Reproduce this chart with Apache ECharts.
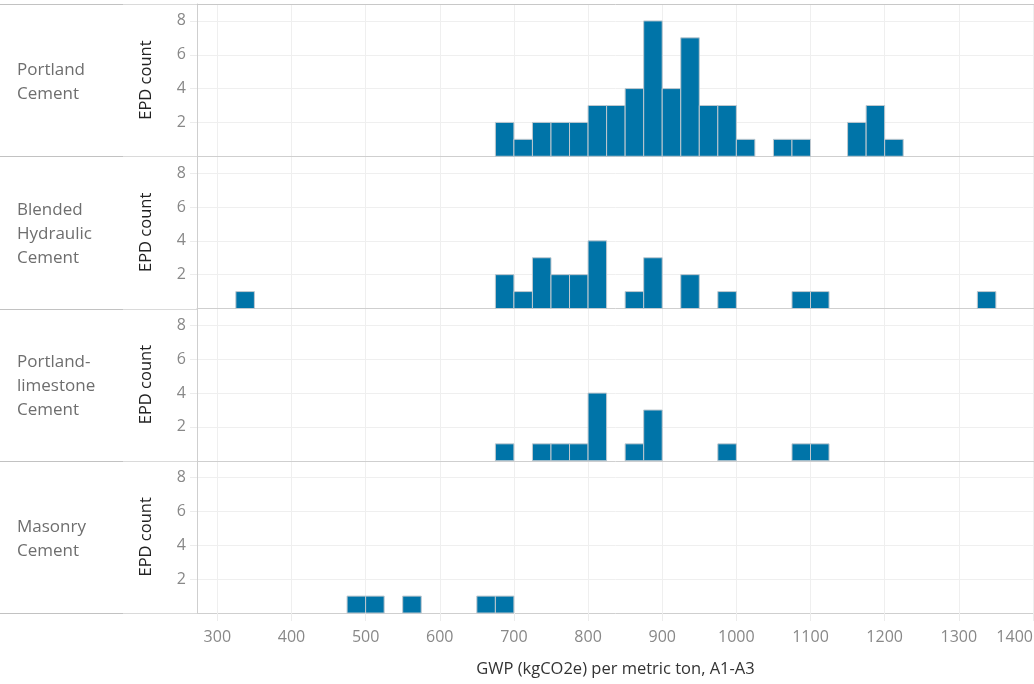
<!DOCTYPE html>
<html>
<head>
<meta charset="utf-8">
<script src="https://cdn.jsdelivr.net/npm/echarts@6/dist/echarts.min.js"></script>
<style>
html,body{margin:0;padding:0;background:#fff;}
#chart{width:1034px;height:684px;}
</style>
</head>
<body>
<div id="chart"></div>
<script>
// ---- data ----
const categories = ['Portland\nCement', 'Blended\nHydraulic\nCement', 'Portland-\nlimestone\nCement', 'Masonry\nCement'];
const binWidth = 25;
const portlandBins   = [675,700,725,750,775,800,825,850,875,900,925,950,975,1000,1050,1075,1150,1175,1200];
const portlandCounts = [2,1,2,2,2,3,3,4,8,4,7,3,3,1,1,1,2,3,1];
const blendedBins    = [325,675,700,725,750,775,800,850,875,925,975,1075,1100,1325];
const blendedCounts  = [1,2,1,3,2,2,4,1,3,2,1,1,1,1];
const limestoneBins  = [675,725,750,775,800,850,875,975,1075,1100];
const limestoneCounts= [1,1,1,1,4,1,3,1,1,1];
const masonryBins    = [475,500,550,650,675];
const masonryCounts  = [1,1,1,1,1];
const xTicks = [300,400,500,600,700,800,900,1000,1100,1200,1300,1400];
const yTicks = [2,4,6,8];
const xTitle = 'GWP (kgCO2e) per metric ton, A1-A3';
const yTitle = 'EPD count';

const panels = [
  [portlandBins, portlandCounts],
  [blendedBins, blendedCounts],
  [limestoneBins, limestoneCounts],
  [masonryBins, masonryCounts]
];

// ---- layout ----
const FONT = '"Open Sans", sans-serif';
const plotLeft = 197, plotRight = 1034;
const top0 = 4, panelH = 152.25;
const xMin = 272.6, xMax = 1401.4;

const chart = echarts.init(document.getElementById('chart'), null, {renderer: 'canvas'});

const grids = [], xAxes = [], yAxes = [], series = [], graphics = [];
panels.forEach((p, i) => {
  const top = top0 + i * panelH;
  const last = i === panels.length - 1;
  grids.push({left: plotLeft, width: plotRight - plotLeft, top: top, height: panelH,
              containLabel: false, outerBoundsMode: 'none'});
  xAxes.push({
    type: 'value', gridIndex: i, min: xMin, max: xMax,
    axisLine: {show: true, lineStyle: {color: '#cfcfcf', width: 1}},
    axisTick: {show: last, length: 8, customValues: xTicks, lineStyle: {color: '#ececec'}},
    axisLabel: {show: last, customValues: xTicks, color: '#888', fontSize: 16, fontFamily: FONT, margin: 16,
                alignMaxLabel: 'right', formatter: v => String(v)},
    splitLine: {show: true, lineStyle: {color: '#efefef', width: 1}},
    name: last ? xTitle : '', nameLocation: 'middle', nameGap: 48,
    nameTextStyle: {color: '#333', fontSize: 16.5, fontFamily: FONT}
  });
  yAxes.push({
    type: 'value', gridIndex: i, min: 0, max: 9,
    axisLine: {show: true, lineStyle: {color: '#cfcfcf', width: 1}},
    axisTick: {show: true, length: 7, customValues: yTicks, lineStyle: {color: '#ececec'}},
    axisLabel: {show: true, customValues: yTicks, color: '#888', fontSize: 16, fontFamily: FONT, margin: 11},
    splitLine: {show: true, lineStyle: {color: '#efefef', width: 1}},
    name: yTitle, nameLocation: 'middle', nameRotate: 90, nameGap: 42,
    nameTextStyle: {color: '#222', fontSize: 16.5, fontFamily: FONT}
  });
  series.push({
    type: 'custom', xAxisIndex: i, yAxisIndex: i,
    data: p[0].map((b, k) => [b, p[1][k]]),
    encode: {x: 0, y: 1},
    renderItem: function (params, api) {
      const x0 = api.value(0), c = api.value(1);
      const pA = api.coord([x0, 0]);
      const pB = api.coord([x0 + binWidth, c]);
      return {
        type: 'rect',
        shape: {x: pA[0], y: pB[1], width: pB[0] - pA[0], height: pA[1] - pB[1]},
        style: {fill: '#0074a8', stroke: '#bfc8cf', lineWidth: 1}
      };
    }
  });
  // category label
  graphics.push({
    type: 'text', left: 17, top: top + 2 + panelH / 2 - (categories[i].split('\n').length * 24) / 2,
    style: {text: categories[i], fill: '#6e6e6e', font: '17px ' + FONT, lineHeight: 24}
  });
});

// separator lines in the header column
for (let i = 0; i <= panels.length; i++) {
  const y = Math.round(top0 + i * panelH) + 0.5;
  graphics.push({type: 'line', shape: {x1: 0, y1: y, x2: 123, y2: y}, style: {stroke: '#c2c2c2', lineWidth: 1}, z: 10});
  graphics.push({type: 'line', shape: {x1: 123, y1: y, x2: plotLeft, y2: y}, style: {stroke: '#dadada', lineWidth: 1}, z: 10});
}
graphics.push({type: 'line', shape: {x1: plotLeft, y1: top0 + 0.5, x2: plotRight, y2: top0 + 0.5}, style: {stroke: '#c8c8c8', lineWidth: 1}, z: 10});

chart.setOption({
  animation: false,
  backgroundColor: '#fff',
  grid: grids,
  xAxis: xAxes,
  yAxis: yAxes,
  series: series,
  graphic: graphics
});
</script>
</body>
</html>
